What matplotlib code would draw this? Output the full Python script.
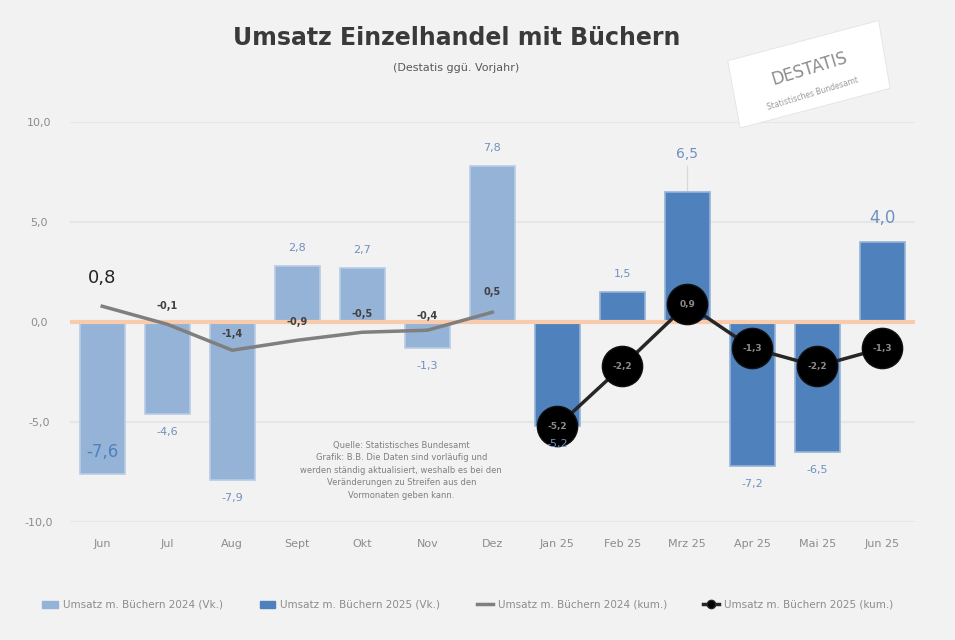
import numpy as np
import matplotlib.pyplot as plt
from matplotlib.patches import Patch, Polygon
from matplotlib.lines import Line2D

# Daten: Veraenderung ggue. Vorjahr in %
monate = ["Jun", "Jul", "Aug", "Sept", "Okt", "Nov", "Dez",
          "Jan 25", "Feb 25", "Mrz 25", "Apr 25", "Mai 25", "Jun 25"]
vk_2024 = [-7.6, -4.6, -7.9, 2.8, 2.7, -1.3, 7.8]
vk_2025 = [-5.2, 1.5, 6.5, -7.2, -6.5, 4.0]
kum_2024 = [0.8, -0.1, -1.4, -0.9, -0.5, -0.4, 0.5]
kum_2025 = [-5.2, -2.2, 0.9, -1.3, -2.2, -1.3]

bg = "#F2F2F2"
hell = "#95B3D7"
dunkel = "#4F81BD"

def fmt(v):
    return f"{v:.1f}".replace(".", ",")

fig = plt.figure(figsize=(9.55, 6.4), dpi=100, facecolor=bg)
ax = fig.add_axes([0.073, 0.184, 0.885, 0.625])
ax.set_facecolor(bg)

x24 = np.arange(len(vk_2024))
x25 = np.arange(len(vk_2024), len(monate))

ax.bar(x24, vk_2024, width=0.69, color=hell, edgecolor="#B8CCE4", linewidth=1.2, zorder=2)
ax.bar(x25, vk_2025, width=0.69, color=dunkel, edgecolor="#95B3D7", linewidth=1.2, zorder=2)

ax.axhline(0, color="#F8CBAD", lw=3, zorder=3)

ax.plot(x24, kum_2024, color="#7F7F7F", lw=2.5, zorder=4)
ax.plot(x25, kum_2025, color="#262626", lw=2.5, marker="o", ms=29,
        mfc="black", mec="#111111", zorder=5)

# Beschriftungen Balken
for i, v in zip(x24, vk_2024):
    if i == 0:
        ax.text(i, v + 1.1, fmt(v), ha="center", va="center", fontsize=12,
                color=dunkel, zorder=6)
    else:
        off = 0.9 if v > 0 else -0.9
        ax.text(i, v + off, fmt(v), ha="center", va="center", fontsize=8,
                color="#6F90C0", zorder=6)
for i, v in zip(x25, vk_2025):
    size = 12 if i == len(monate) - 1 else 8
    off = 0.9 if v > 0 else -0.9
    if i == 9:
        off = 1.9
        size = 10
        ax.plot([i, i], [v + 0.1, v + 1.3], color="#D9D9D9", lw=1, zorder=1)
    ax.text(i, v + off + (0.3 if size == 12 else 0), fmt(v), ha="center",
            va="center", fontsize=size, color="#6F90C0", zorder=6)

# Beschriftungen Linien
kum24_off = [1.4, 0.9, 0.8, 0.9, 0.9, 0.7, 1.0]
for i, v in enumerate(kum_2024):
    if i == 0:
        ax.text(i, v + kum24_off[i], fmt(v), ha="center", va="center",
                fontsize=13, color="#262626", zorder=6)
    else:
        ax.text(i, v + kum24_off[i], fmt(v), ha="center", va="center",
                fontsize=7, color="#404040", fontweight="bold", zorder=6)
for i, v in zip(x25, kum_2025):
    ax.text(i, v, fmt(v), ha="center", va="center", fontsize=6.5,
            color="#8C8C8C", fontweight="bold", zorder=7)

ax.set_xlim(-0.5, 12.5)
ax.set_ylim(-10, 10)
ax.set_yticks([-10, -5, 0, 5, 10])
ax.set_yticklabels([fmt(t) for t in [-10, -5, 0, 5, 10]])
ax.set_xticks(np.arange(len(monate)))
ax.set_xticklabels(monate)
ax.tick_params(length=0, colors="#8C8C8C", labelsize=8)
ax.tick_params(axis="x", pad=12)
ax.tick_params(axis="y", pad=22)
for t in ax.get_yticklabels():
    t.set_ha("center")
ax.grid(axis="y", color="#E6E6E6", lw=1.5, zorder=0)
ax.set_axisbelow(True)
for s in ax.spines.values():
    s.set_visible(False)

fig.text(0.478, 0.94, "Umsatz Einzelhandel mit Büchern", ha="center",
         va="center", fontsize=17, fontweight="heavy", color="#3A3A3A")
fig.text(0.478, 0.893, "(Destatis ggü. Vorjahr)", ha="center", va="center",
         fontsize=8, color="#595959")

ax.text(4.6, -7.4,
        "Quelle: Statistisches Bundesamt\n"
        "Grafik: B.B. Die Daten sind vorläufig und\n"
        "werden ständig aktualisiert, weshalb es bei den\n"
        "Veränderungen zu Streifen aus den\n"
        "Vormonaten geben kann.",
        ha="center", va="center", fontsize=6, color="#7F7F7F",
        linespacing=1.5, zorder=6)

# Logo
logo = Polygon([[0.762, 0.905], [0.920, 0.968], [0.932, 0.862], [0.775, 0.800]],
               closed=True, transform=fig.transFigure, fc="white", ec="#E3E3E3",
               lw=0.6, zorder=1)
fig.patches.append(logo)
fig.text(0.848, 0.893, "DESTATIS", ha="center", va="center", rotation=17,
         fontsize=12, color="#8C8C8C")
fig.text(0.851, 0.853, "Statistisches Bundesamt", ha="center", va="center",
         rotation=17, fontsize=5.5, color="#9A9A9A")

handles = [Patch(color=hell), Patch(color=dunkel),
           Line2D([], [], color="#7F7F7F", lw=2.5),
           Line2D([], [], color="#262626", lw=2.5, marker="o", ms=6, mfc="black")]
labels = ["Umsatz m. Büchern 2024 (Vk.)", "Umsatz m. Büchern 2025 (Vk.)",
          "Umsatz m. Büchern 2024 (kum.)", "Umsatz m. Büchern 2025 (kum.)"]
fig.legend(handles, labels, loc="center", bbox_to_anchor=(0.49, 0.055), ncol=4,
           frameon=False, fontsize=7.5, labelcolor="#8C8C8C", handlelength=1.5,
           columnspacing=3.5, handletextpad=0.5)

fig.savefig("out.png", dpi=100, facecolor=bg)
